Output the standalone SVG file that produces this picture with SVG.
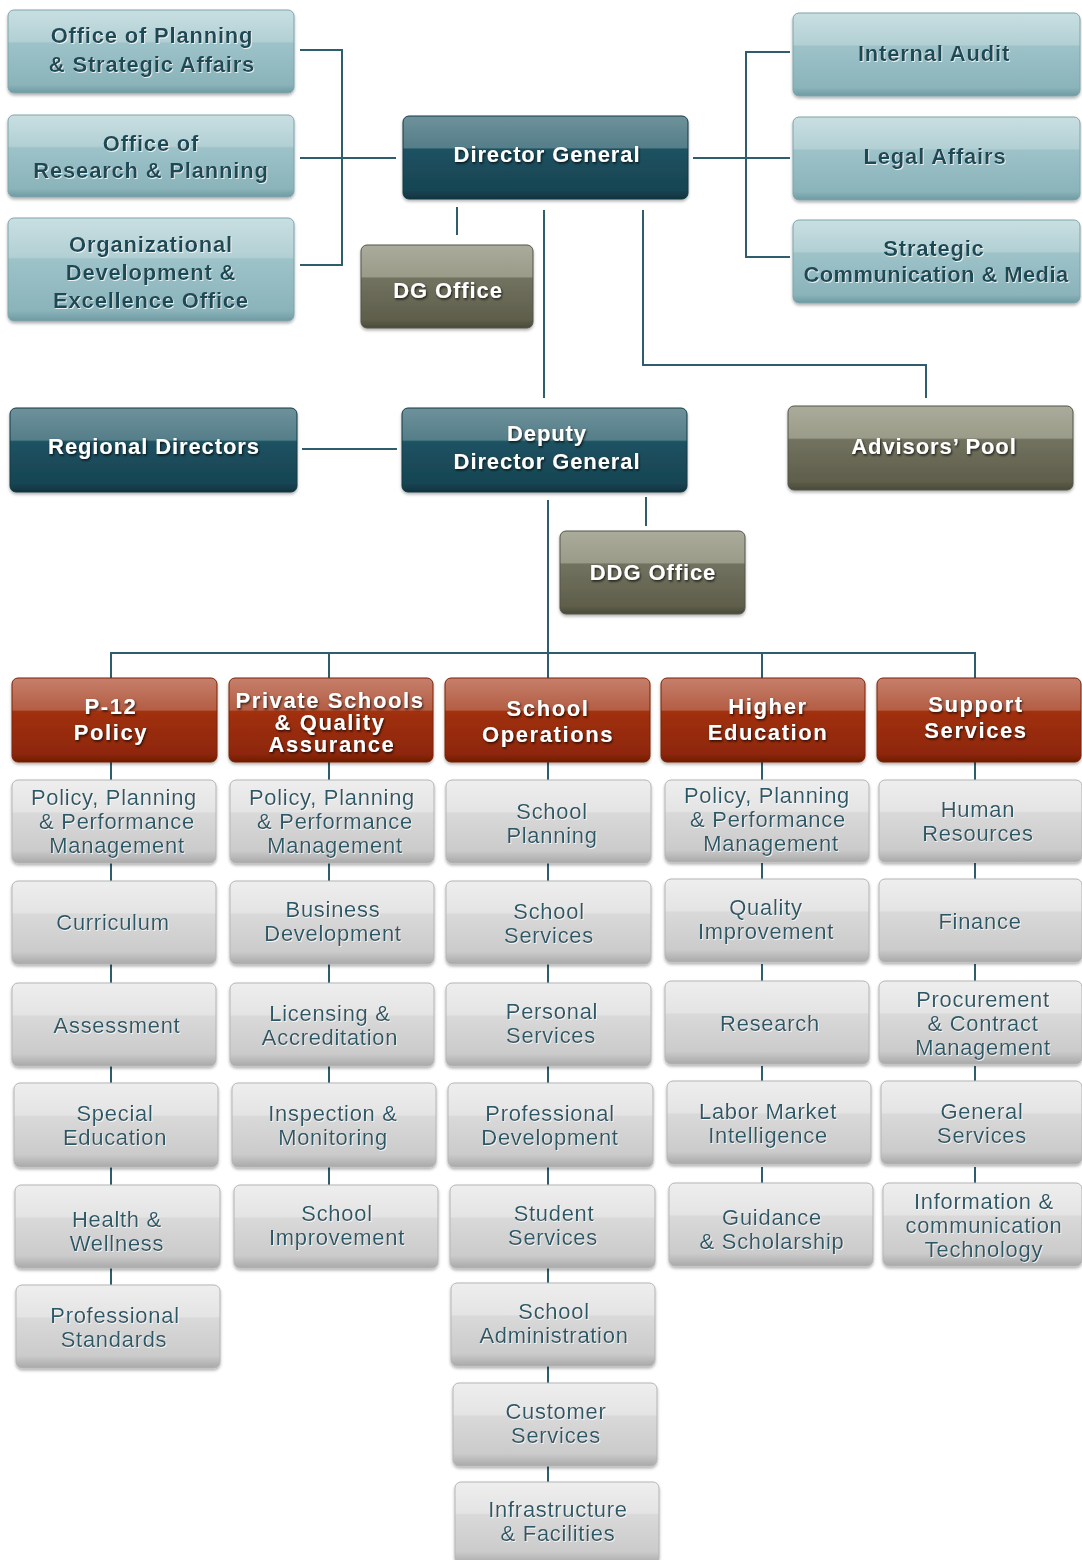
<svg xmlns="http://www.w3.org/2000/svg" width="1082" height="1560" viewBox="0 0 1082 1560">
<defs>
<linearGradient id="gLt" x1="0" y1="0" x2="0" y2="1">
<stop offset="0" stop-color="#c9dfe2"/><stop offset="0.38" stop-color="#b2d0d4"/><stop offset="0.40" stop-color="#9dc3c9"/><stop offset="0.9" stop-color="#8ab3ba"/><stop offset="1" stop-color="#6f9aa3"/>
</linearGradient>
<linearGradient id="gDk" x1="0" y1="0" x2="0" y2="1">
<stop offset="0" stop-color="#6e929b"/><stop offset="0.38" stop-color="#557e89"/><stop offset="0.40" stop-color="#1f5262"/><stop offset="0.9" stop-color="#174452"/><stop offset="1" stop-color="#10323d"/>
</linearGradient>
<linearGradient id="gOl" x1="0" y1="0" x2="0" y2="1">
<stop offset="0" stop-color="#abab9c"/><stop offset="0.38" stop-color="#9b9b89"/><stop offset="0.40" stop-color="#727260"/><stop offset="0.9" stop-color="#5e5e4b"/><stop offset="1" stop-color="#4a4a3a"/>
</linearGradient>
<linearGradient id="gRd" x1="0" y1="0" x2="0" y2="1">
<stop offset="0" stop-color="#c67f6c"/><stop offset="0.38" stop-color="#b45e44"/><stop offset="0.40" stop-color="#a1300e"/><stop offset="0.9" stop-color="#8e2708"/><stop offset="1" stop-color="#6e1c04"/>
</linearGradient>
<linearGradient id="gGy" x1="0" y1="0" x2="0" y2="1">
<stop offset="0" stop-color="#eeeeee"/><stop offset="0.38" stop-color="#e4e4e4"/><stop offset="0.40" stop-color="#d9d9d9"/><stop offset="0.85" stop-color="#cbcbcb"/><stop offset="1" stop-color="#a9a9a9"/>
</linearGradient>
<filter id="sh" x="-5%" y="-10%" width="110%" height="130%">
<feDropShadow dx="0" dy="2" stdDeviation="1.5" flood-color="#000" flood-opacity="0.3"/>
</filter>
<filter id="tdk" x="-5%" y="-20%" width="110%" height="150%">
<feDropShadow dx="1" dy="1.5" stdDeviation="0.8" flood-color="#000" flood-opacity="0.75"/>
</filter>
<filter id="tlt" x="-5%" y="-20%" width="110%" height="150%">
<feDropShadow dx="0.8" dy="1" stdDeviation="0.6" flood-color="#ffffff" flood-opacity="0.8"/>
</filter>
</defs>
<style>
.ln{stroke:#2e5e6c;stroke-width:2;fill:none}
.bx{filter:url(#sh)}
.lt{fill:url(#gLt);stroke:#7ea4ab;stroke-width:1}
.dk{fill:url(#gDk);stroke:#123a46;stroke-width:1}
.ol{fill:url(#gOl);stroke:#55554a;stroke-width:1}
.rd{fill:url(#gRd);stroke:#7a2208;stroke-width:1}
.gy{fill:url(#gGy);stroke:#b5b5b5;stroke-width:1}
text{font-family:"Liberation Sans",Arial,Helvetica,sans-serif;text-anchor:middle;dominant-baseline:central;font-size:22px}
.tl{font-weight:bold;fill:#1f4a56;letter-spacing:0.8px;filter:url(#tlt)}
.tw{font-weight:bold;fill:#ffffff;letter-spacing:0.9px;filter:url(#tdk)}
.th{font-weight:bold;fill:#ffffff;letter-spacing:1.6px;filter:url(#tdk)}
.tg{fill:#2c5866;letter-spacing:0.7px;filter:url(#tlt)}
</style>
<rect width="1082" height="1560" fill="#ffffff"/>

<g id="connectors">
<path class="ln" d="M300,50 H342 V265 H300 M300,158 H396"/>
<path class="ln" d="M693,158 H790 M790,52 H746 V257 H790"/>
<path class="ln" d="M457,207 V235"/>
<path class="ln" d="M544,210 V398"/>
<path class="ln" d="M643,210 V365 H926 V398"/>
<path class="ln" d="M302,449 H397"/>
<path class="ln" d="M646,497 V526"/>
<path class="ln" d="M548,500 V653"/>
<path class="ln" d="M111,678 V653 H975 V678 M329,653 V678 M548,653 V678 M762,653 V678"/>
<path class="ln" d="M111,762 V780 M111,863 V881 M111,964 V983 M111,1066 V1083 M111,1167 V1185 M111,1268 V1285"/>
<path class="ln" d="M329,762 V780 M329,863 V881 M329,964 V983 M329,1066 V1083 M329,1167 V1185"/>
<path class="ln" d="M548,762 V780 M548,863 V881 M548,964 V983 M548,1066 V1083 M548,1167 V1185 M548,1268 V1285 M548,1366 V1383 M548,1466 V1482"/>
<path class="ln" d="M762,762 V780 M762,863 V881 M762,964 V983 M762,1066 V1083 M762,1167 V1185"/>
<path class="ln" d="M975,762 V780 M975,863 V881 M975,964 V983 M975,1066 V1083 M975,1167 V1185"/>
</g>

<g id="office-planning-strategic"><rect class="bx lt" x="8" y="10" width="286" height="83" rx="6"/><text class="tl" x="152" y="35">Office of Planning</text><text class="tl" x="152" y="64">&amp; Strategic Affairs</text></g>
<g id="office-research-planning"><rect class="bx lt" x="8" y="115" width="286" height="82" rx="6"/><text class="tl" x="151" y="143">Office of</text><text class="tl" x="151" y="170">Research &amp; Planning</text></g>
<g id="org-development"><rect class="bx lt" x="8" y="218" width="286" height="103" rx="6"/><text class="tl" x="151" y="244">Organizational</text><text class="tl" x="151" y="272">Development &amp;</text><text class="tl" x="151" y="300">Excellence Office</text></g>

<g id="internal-audit"><rect class="bx lt" x="793" y="13" width="287" height="83" rx="6"/><text class="tl" x="934" y="53">Internal Audit</text></g>
<g id="legal-affairs"><rect class="bx lt" x="793" y="117" width="287" height="83" rx="6"/><text class="tl" x="935" y="156">Legal Affairs</text></g>
<g id="strategic-communication"><rect class="bx lt" x="793" y="220" width="287" height="83" rx="6"/><text class="tl" x="934" y="248">Strategic</text><text class="tl" x="936" y="274" style="letter-spacing:0.4px">Communication &amp; Media</text></g>

<g id="director-general"><rect class="bx dk" x="403" y="116" width="285" height="83" rx="6"/><text class="tw" x="547" y="154">Director General</text></g>
<g id="dg-office"><rect class="bx ol" x="361" y="245" width="172" height="83" rx="6"/><text class="tw" x="448" y="290">DG Office</text></g>

<g id="regional-directors"><rect class="bx dk" x="10" y="408" width="287" height="84" rx="6"/><text class="tw" x="154" y="446">Regional Directors</text></g>
<g id="deputy-director-general"><rect class="bx dk" x="402" y="408" width="285" height="84" rx="6"/><text class="tw" x="547" y="433">Deputy</text><text class="tw" x="547" y="461">Director General</text></g>
<g id="advisors-pool"><rect class="bx ol" x="788" y="406" width="285" height="84" rx="6"/><text class="tw" x="934" y="446">Advisors’ Pool</text></g>
<g id="ddg-office"><rect class="bx ol" x="560" y="531" width="185" height="83" rx="6"/><text class="tw" x="653" y="572">DDG Office</text></g>

<g id="p12-policy"><rect class="bx rd" x="12" y="678" width="205" height="84" rx="6"/><text class="th" x="111" y="706">P-12</text><text class="th" x="111" y="732">Policy</text></g>
<g id="private-schools"><rect class="bx rd" x="229" y="678" width="204" height="84" rx="6"/><text class="th" x="330" y="700">Private Schools</text><text class="th" x="330" y="722">&amp; Quality</text><text class="th" x="332" y="744">Assurance</text></g>
<g id="school-operations"><rect class="bx rd" x="445" y="678" width="205" height="84" rx="6"/><text class="th" x="548" y="708">School</text><text class="th" x="548" y="734">Operations</text></g>
<g id="higher-education"><rect class="bx rd" x="661" y="678" width="204" height="84" rx="6"/><text class="th" x="768" y="706">Higher</text><text class="th" x="768" y="732">Education</text></g>
<g id="support-services"><rect class="bx rd" x="877" y="678" width="204" height="84" rx="6"/><text class="th" x="976" y="704">Support</text><text class="th" x="976" y="730">Services</text></g>

<g id="p12-ppm"><rect class="bx gy" x="12" y="780" width="204" height="83" rx="6"/><text class="tg" x="114" y="797">Policy, Planning</text><text class="tg" x="117" y="821">&amp; Performance</text><text class="tg" x="117" y="845">Management</text></g>
<g id="curriculum"><rect class="bx gy" x="12" y="881" width="204" height="83" rx="6"/><text class="tg" x="113" y="922">Curriculum</text></g>
<g id="assessment"><rect class="bx gy" x="12" y="983" width="204" height="83" rx="6"/><text class="tg" x="117" y="1025">Assessment</text></g>
<g id="special-education"><rect class="bx gy" x="14" y="1083" width="204" height="84" rx="6"/><text class="tg" x="115" y="1113">Special</text><text class="tg" x="115" y="1137">Education</text></g>
<g id="health-wellness"><rect class="bx gy" x="15" y="1185" width="205" height="83" rx="6"/><text class="tg" x="117" y="1219">Health &amp;</text><text class="tg" x="117" y="1243">Wellness</text></g>
<g id="professional-standards"><rect class="bx gy" x="16" y="1285" width="204" height="83" rx="6"/><text class="tg" x="115" y="1315">Professional</text><text class="tg" x="114" y="1339">Standards</text></g>

<g id="ps-ppm"><rect class="bx gy" x="230" y="780" width="204" height="83" rx="6"/><text class="tg" x="332" y="797">Policy, Planning</text><text class="tg" x="335" y="821">&amp; Performance</text><text class="tg" x="335" y="845">Management</text></g>
<g id="business-development"><rect class="bx gy" x="230" y="881" width="204" height="83" rx="6"/><text class="tg" x="333" y="909">Business</text><text class="tg" x="333" y="933">Development</text></g>
<g id="licensing-accreditation"><rect class="bx gy" x="230" y="983" width="204" height="83" rx="6"/><text class="tg" x="330" y="1013">Licensing &amp;</text><text class="tg" x="330" y="1037">Accreditation</text></g>
<g id="inspection-monitoring"><rect class="bx gy" x="232" y="1083" width="204" height="84" rx="6"/><text class="tg" x="333" y="1113">Inspection &amp;</text><text class="tg" x="333" y="1137">Monitoring</text></g>
<g id="school-improvement"><rect class="bx gy" x="234" y="1185" width="204" height="83" rx="6"/><text class="tg" x="337" y="1213">School</text><text class="tg" x="337" y="1237">Improvement</text></g>

<g id="school-planning"><rect class="bx gy" x="446" y="780" width="205" height="83" rx="6"/><text class="tg" x="552" y="811">School</text><text class="tg" x="552" y="835">Planning</text></g>
<g id="school-services"><rect class="bx gy" x="446" y="881" width="205" height="83" rx="6"/><text class="tg" x="549" y="911">School</text><text class="tg" x="549" y="935">Services</text></g>
<g id="personal-services"><rect class="bx gy" x="446" y="983" width="205" height="83" rx="6"/><text class="tg" x="552" y="1011">Personal</text><text class="tg" x="551" y="1035">Services</text></g>
<g id="professional-development"><rect class="bx gy" x="448" y="1083" width="205" height="84" rx="6"/><text class="tg" x="550" y="1113">Professional</text><text class="tg" x="550" y="1137">Development</text></g>
<g id="student-services"><rect class="bx gy" x="450" y="1185" width="205" height="83" rx="6"/><text class="tg" x="554" y="1213">Student</text><text class="tg" x="553" y="1237">Services</text></g>
<g id="school-administration"><rect class="bx gy" x="451" y="1283" width="204" height="83" rx="6"/><text class="tg" x="554" y="1311">School</text><text class="tg" x="554" y="1335">Administration</text></g>
<g id="customer-services"><rect class="bx gy" x="453" y="1383" width="204" height="83" rx="6"/><text class="tg" x="556" y="1411">Customer</text><text class="tg" x="556" y="1435">Services</text></g>
<g id="infrastructure-facilities"><rect class="bx gy" x="455" y="1482" width="204" height="82" rx="6"/><text class="tg" x="558" y="1509">Infrastructure</text><text class="tg" x="558" y="1533">&amp; Facilities</text></g>

<g id="he-ppm"><rect class="bx gy" x="665" y="780" width="204" height="82" rx="6"/><text class="tg" x="767" y="795">Policy, Planning</text><text class="tg" x="768" y="819">&amp; Performance</text><text class="tg" x="771" y="843">Management</text></g>
<g id="quality-improvement"><rect class="bx gy" x="665" y="879" width="204" height="83" rx="6"/><text class="tg" x="766" y="907">Quality</text><text class="tg" x="766" y="931">Improvement</text></g>
<g id="research"><rect class="bx gy" x="665" y="981" width="204" height="83" rx="6"/><text class="tg" x="770" y="1023">Research</text></g>
<g id="labor-market"><rect class="bx gy" x="667" y="1081" width="204" height="83" rx="6"/><text class="tg" x="768" y="1111">Labor Market</text><text class="tg" x="768" y="1135">Intelligence</text></g>
<g id="guidance-scholarship"><rect class="bx gy" x="669" y="1183" width="204" height="83" rx="6"/><text class="tg" x="772" y="1217">Guidance</text><text class="tg" x="772" y="1241">&amp; Scholarship</text></g>

<g id="human-resources"><rect class="bx gy" x="879" y="780" width="203" height="82" rx="6"/><text class="tg" x="978" y="809">Human</text><text class="tg" x="978" y="833">Resources</text></g>
<g id="finance"><rect class="bx gy" x="879" y="879" width="203" height="83" rx="6"/><text class="tg" x="980" y="921">Finance</text></g>
<g id="procurement"><rect class="bx gy" x="879" y="981" width="203" height="83" rx="6"/><text class="tg" x="983" y="999">Procurement</text><text class="tg" x="983" y="1023">&amp; Contract</text><text class="tg" x="983" y="1047">Management</text></g>
<g id="general-services"><rect class="bx gy" x="881" y="1081" width="201" height="83" rx="6"/><text class="tg" x="982" y="1111">General</text><text class="tg" x="982" y="1135">Services</text></g>
<g id="ict"><rect class="bx gy" x="883" y="1183" width="199" height="83" rx="6"/><text class="tg" x="984" y="1201">Information &amp;</text><text class="tg" x="984" y="1225">communication</text><text class="tg" x="984" y="1249">Technology</text></g>
</svg>
